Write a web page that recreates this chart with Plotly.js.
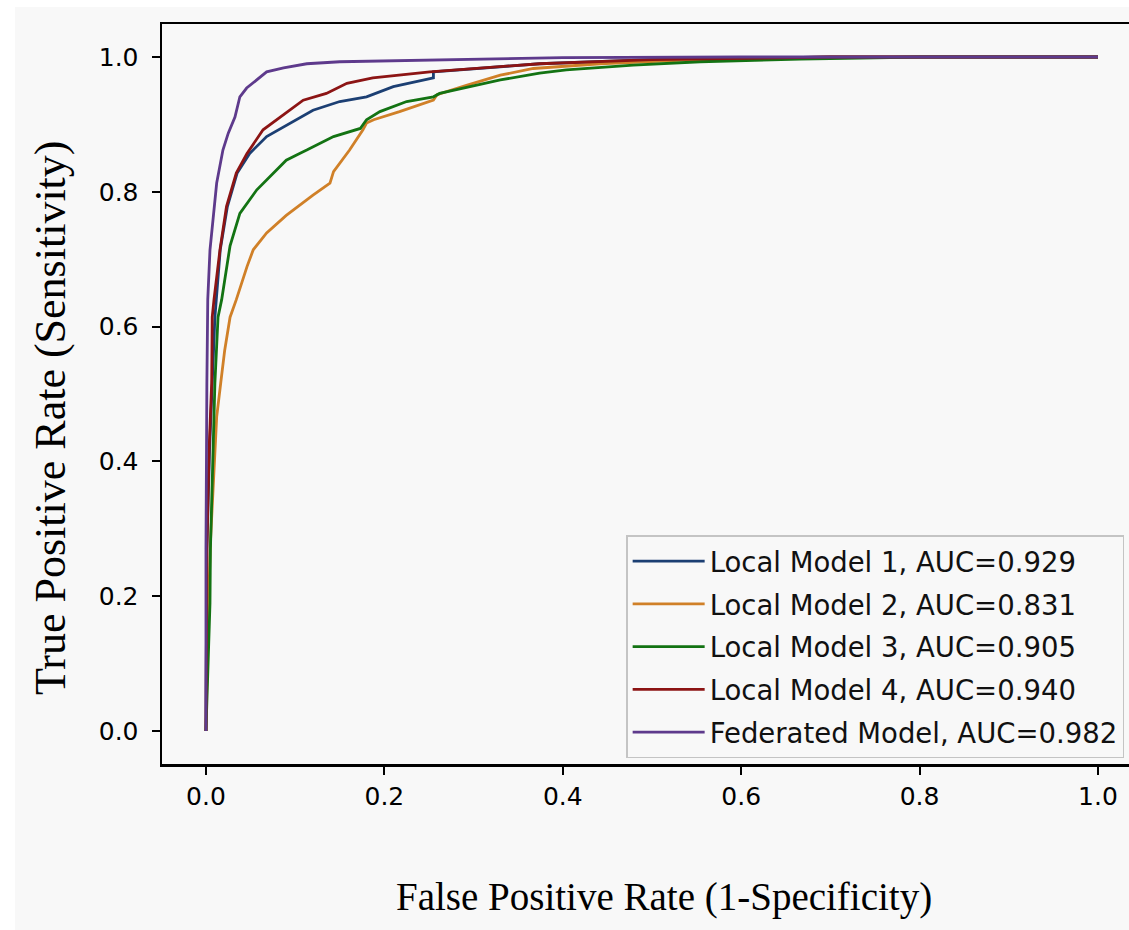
<!DOCTYPE html>
<html>
<head>
<meta charset="utf-8">
<script src="https://cdn.plot.ly/plotly-3.0.1.min.js"></script>
<style>
  html, body { margin: 0; padding: 0; background: #ffffff; }
  #chart { position: absolute; left: 15px; top: 7px; width: 1114px; height: 923px; }
</style>
</head>
<body>
<div id="chart"></div>
<script>
// ---- data ----
const seriesNames = [
  "Local Model 1, AUC=0.929",
  "Local Model 2, AUC=0.831",
  "Local Model 3, AUC=0.905",
  "Local Model 4, AUC=0.940",
  "Federated Model, AUC=0.982"
];
const seriesColors = ["#1c3f73", "#d08028", "#137313", "#8c1414", "#5e3a8c"];

const fpr1 = [0, 0.001, 0.004, 0.007, 0.010, 0.016, 0.024, 0.035, 0.049, 0.068, 0.094, 0.120, 0.150, 0.180, 0.210, 0.251, 0.255, 0.255, 0.374, 0.5, 0.7, 1.0];
const tpr1 = [0, 0.27, 0.417, 0.516, 0.614, 0.714, 0.778, 0.828, 0.857, 0.882, 0.902, 0.921, 0.934, 0.941, 0.956, 0.968, 0.969, 0.978, 0.990, 0.996, 1.0, 1.0];

const fpr2 = [0, 0.002, 0.005, 0.008, 0.010, 0.012, 0.0165, 0.021, 0.027, 0.034, 0.046, 0.053, 0.068, 0.090, 0.120, 0.139, 0.143, 0.161, 0.176, 0.180, 0.188, 0.217, 0.255, 0.259, 0.292, 0.330, 0.367, 0.442, 0.55, 0.7, 1.0];
const tpr2 = [0, 0.15, 0.28, 0.368, 0.417, 0.466, 0.516, 0.565, 0.614, 0.640, 0.689, 0.714, 0.739, 0.765, 0.795, 0.813, 0.830, 0.862, 0.892, 0.902, 0.907, 0.919, 0.936, 0.944, 0.958, 0.973, 0.983, 0.990, 0.996, 1.0, 1.0];

const fpr3 = [0, 0.0045, 0.005, 0.008, 0.010, 0.0135, 0.0176, 0.027, 0.038, 0.057, 0.090, 0.105, 0.113, 0.143, 0.173, 0.180, 0.195, 0.225, 0.255, 0.262, 0.330, 0.374, 0.404, 0.479, 0.554, 0.666, 0.8, 1.0];
const tpr3 = [0, 0.19, 0.27, 0.417, 0.516, 0.614, 0.640, 0.720, 0.768, 0.803, 0.847, 0.857, 0.862, 0.882, 0.894, 0.907, 0.919, 0.934, 0.941, 0.946, 0.966, 0.976, 0.981, 0.988, 0.993, 0.997, 1.0, 1.0];

const fpr4 = [0, 0.001, 0.0035, 0.0064, 0.007, 0.009, 0.0157, 0.023, 0.034, 0.046, 0.064, 0.083, 0.109, 0.135, 0.158, 0.187, 0.251, 0.374, 0.5, 0.7, 1.0];
const tpr4 = [0, 0.27, 0.417, 0.516, 0.614, 0.640, 0.714, 0.778, 0.828, 0.857, 0.892, 0.911, 0.936, 0.946, 0.961, 0.969, 0.978, 0.990, 0.996, 1.0, 1.0];

const fprF = [0, 0, 0.001, 0.002, 0.0045, 0.0064, 0.012, 0.019, 0.025, 0.0325, 0.038, 0.0456, 0.057, 0.068, 0.087, 0.113, 0.150, 0.262, 0.4, 0.6, 1.0];
const tprF = [0, 0.27, 0.516, 0.640, 0.714, 0.739, 0.813, 0.862, 0.887, 0.911, 0.941, 0.954, 0.966, 0.978, 0.984, 0.990, 0.993, 0.996, 0.999, 1.0, 1.0];

const xTickVals = [0, 0.2, 0.4, 0.6, 0.8, 1.0];
const xTickText = ["0.0", "0.2", "0.4", "0.6", "0.8", "1.0"];
const yTickVals = [0, 0.2, 0.4, 0.6, 0.8, 1.0];
const yTickText = ["0.0", "0.2", "0.4", "0.6", "0.8", "1.0"];

const xTitle = "False Positive Rate (1-Specificity)";
const yTitle = "True Positive Rate (Sensitivity)";

const xs = [fpr1, fpr2, fpr3, fpr4, fprF];
const ys = [tpr1, tpr2, tpr3, tpr4, tprF];

const traces = xs.map((x, i) => ({
  x: x, y: ys[i], type: "scatter", mode: "lines",
  name: seriesNames[i], legendgroup: "g" + i,
  line: { color: seriesColors[i], width: 2.8 }
}));

const bg = "#f8f8f8";
const serif = { family: "Liberation Serif", color: "#000" };
const layout = {
  width: 1114, height: 923,
  paper_bgcolor: bg, plot_bgcolor: bg,
  margin: { l: 147, r: 0, t: 17, b: 166, pad: 0 },
  showlegend: true,
  legend: {
    x: 0.48, y: 0.309, xanchor: "left", yanchor: "top",
    bgcolor: bg, bordercolor: "#c4c4c4", borderwidth: 1.5,
    font: { family: "DejaVu Sans", size: 27.5, color: "#111" },
    tracegroupgap: 4, itemwidth: 72
  },
  xaxis: {
    range: [-0.0493, 1.0348], showgrid: false, zeroline: false,
    showline: true, linecolor: "#000", linewidth: 2.5, mirror: true,
    ticks: "outside", ticklen: 8, tickwidth: 2, tickcolor: "#000",
    tickvals: xTickVals, ticktext: xTickText,
    tickfont: { family: "DejaVu Sans", size: 25, color: "#000" }
  },
  yaxis: {
    range: [-0.049, 1.049], showgrid: false, zeroline: false,
    showline: true, linecolor: "#000", linewidth: 2.5, mirror: false,
    ticks: "outside", ticklen: 8, tickwidth: 2, tickcolor: "#000",
    ticklabelstandoff: 8,
    tickvals: yTickVals, ticktext: yTickText,
    tickfont: { family: "DejaVu Sans", size: 25, color: "#000" }
  },
  annotations: [
    { text: xTitle, xref: "paper", yref: "paper",
      x: (664 - 162) / 967, y: (764 - 897) / 740, xanchor: "center", yanchor: "middle",
      showarrow: false, font: Object.assign({ size: 39 }, serif) },
    { text: yTitle, xref: "paper", yref: "paper", textangle: -90,
      x: (50 - 162) / 967, y: (764 - 418) / 740, xanchor: "center", yanchor: "middle",
      showarrow: false, font: Object.assign({ size: 44 }, serif) }
  ]
};

Plotly.newPlot("chart", traces, layout, { displayModeBar: false, staticPlot: true });
</script>
</body>
</html>
